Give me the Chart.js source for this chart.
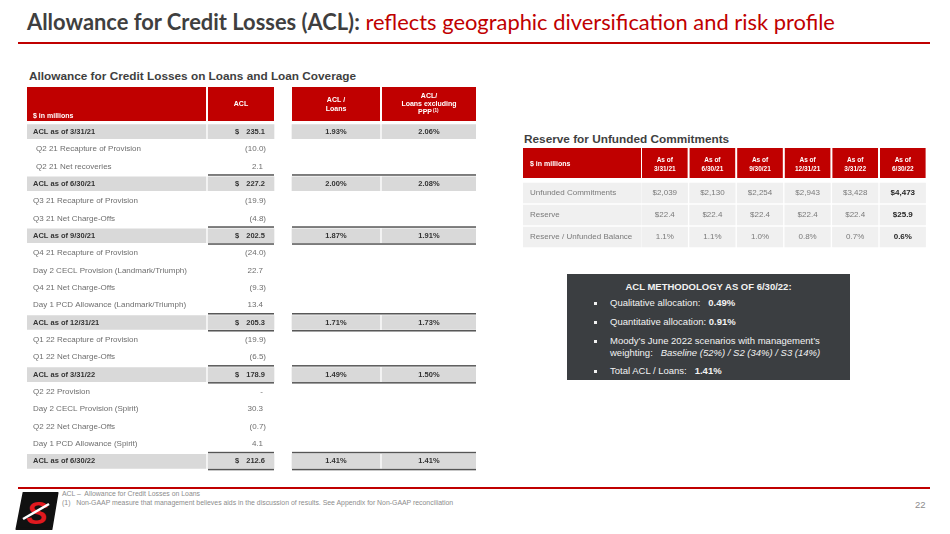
<!DOCTYPE html>
<html>
<head>
<meta charset="utf-8">
<script src="https://cdn.jsdelivr.net/npm/chart.js@4.4.1/dist/chart.umd.min.js"></script>
<style>
  body { margin: 0; width: 950px; height: 534px; position: relative; background: #fff; overflow: hidden; font-family: "Liberation Sans", Arial, sans-serif; }
  .abs { position: absolute; white-space: nowrap; }
  #title { left: 27px; top: 7px; font-family: Lato, sans-serif; font-size: 21.9px; line-height: 30px; color: #3f3f3f; }
  #title b { font-weight: 700; }
  #title span { color: #c00000; font-weight: 400; }
  .rule { position: absolute; left: 18px; width: 912px; height: 2px; background: #c00000; }
  .sub { font-weight: bold; font-size: 11.8px; color: #3f3f3f; }
  #method { left: 567px; top: 274px; width: 283px; height: 106px; background: #3b3e41; color: #f2f2f2; font-size: 9.5px; }
  #method .hd { position: absolute; top: 7px; width: 100%; text-align: center; font-weight: bold; font-size: 9.5px; }
  #method .li { position: absolute; left: 43px; line-height: 12px; }
  #method .li:before { content: ""; position: absolute; left: -16px; top: 5px; width: 3px; height: 3px; background: #f2f2f2; }
  #notes { left: 62px; top: 489px; font-size: 6.9px; line-height: 9px; color: #8c8c8c; }
  #page { left: 915px; top: 499px; font-size: 9.5px; color: #8c8c8c; }
  canvas { position: absolute; }
</style>
</head>
<body>
<div id="title" class="abs"><b>Allowance for Credit Losses (ACL):</b> <span>reflects geographic diversification and risk profile</span></div>
<div class="rule" style="top:42px"></div>
<div class="abs sub" style="left:29px;top:69px">Allowance for Credit Losses on Loans and Loan Coverage</div>
<div class="abs sub" style="left:524px;top:132px">Reserve for Unfunded Commitments</div>

<canvas id="aclChart" width="449" height="384" style="left:27px;top:87px"></canvas>
<canvas id="ucChart" width="403" height="101" style="left:523px;top:148px"></canvas>

<div id="method" class="abs"></div>

<div class="rule" style="top:487px"></div>
<svg class="abs" style="left:15px;top:492px" width="44" height="38" viewBox="0 0 44 38">
  <path d="M9 1 H42 L36 37 H2 Z" fill="#111" stroke="#111" stroke-width="3" stroke-linejoin="round"/>
  <text x="22" y="32" text-anchor="middle" font-family="Liberation Sans" font-weight="bold" font-style="italic" font-size="32" fill="#e0191f">S</text>
  <path d="M8 27 L34 12" stroke="#fff" stroke-width="2.5"/>
</svg>
<div id="notes" class="abs">ACL &ndash;&nbsp; Allowance for Credit Losses on Loans<br>(1)&nbsp;&nbsp; Non-GAAP measure that management believes aids in the discussion of results. See Appendix for Non-GAAP reconciliation</div>
<div id="page" class="abs">22</div>

<script>
// ACL roll-forward table
const aclRows = ['ACL as of 3/31/21', 'Q2 21 Recapture of Provision', 'Q2 21 Net recoveries',
  'ACL as of 6/30/21', 'Q3 21 Recapture of Provision', 'Q3 21 Net Charge-Offs',
  'ACL as of 9/30/21', 'Q4 21 Recapture of Provision', 'Day 2 CECL Provision (Landmark/Triumph)',
  'Q4 21 Net Charge-Offs', 'Day 1 PCD Allowance (Landmark/Triumph)',
  'ACL as of 12/31/21', 'Q1 22 Recapture of Provision', 'Q1 22 Net Charge-Offs',
  'ACL as of 3/31/22', 'Q2 22 Provision', 'Day 2 CECL Provision (Spirit)',
  'Q2 22 Net Charge-Offs', 'Day 1 PCD Allowance (Spirit)', 'ACL as of 6/30/22'];
const aclAmounts = [235.1, -10.0, 2.1, 227.2, -19.9, -4.8, 202.5, -24.0, 22.7, -9.3, 13.4,
  205.3, -19.9, -6.5, 178.9, 0, 30.3, -0.7, 4.1, 212.6];
const aclToLoans = [1.93, null, null, 2.00, null, null, 1.87, null, null, null, null,
  1.71, null, null, 1.49, null, null, null, null, 1.41];
const aclToLoansExPpp = [2.06, null, null, 2.08, null, null, 1.91, null, null, null, null,
  1.73, null, null, 1.50, null, null, null, null, 1.41];
const aclHeaders = [['$ in millions'], ['ACL'], ['ACL /', 'Loans'], ['ACL/', 'Loans excluding', 'PPP']];

// Reserve for unfunded commitments table
const ucDates = ['3/31/21', '6/30/21', '9/30/21', '12/31/21', '3/31/22', '6/30/22'];
const ucRows = ['Unfunded Commitments', 'Reserve', 'Reserve / Unfunded Balance'];
const unfundedCommitments = [2039, 2130, 2254, 2943, 3428, 4473];
const reserveAmounts = [22.4, 22.4, 22.4, 22.4, 22.4, 25.9];
const reserveRatios = [1.1, 1.1, 1.0, 0.8, 0.7, 0.6];

// Methodology box
const qualitativeAllocation = 0.49;
const quantitativeAllocation = 0.91;
const scenarioNames = ['Baseline', 'S2', 'S3'];
const scenarioWeights = [52, 34, 14];
const totalAclToLoans = 1.41;

const RED = '#c00000';
const FONT = '"Liberation Sans", Arial, sans-serif';

const isTotal = label => label.startsWith('ACL as of');

function fmtAmount(v) {
  if (v === 0) return '-';
  return v < 0 ? '(' + Math.abs(v).toFixed(1) + ')' : v.toFixed(1);
}

function drawText(ctx, str, x, y, font, color, align) {
  ctx.font = font;
  ctx.fillStyle = color;
  ctx.textAlign = align || 'left';
  ctx.textBaseline = 'middle';
  ctx.fillText(str, x, y);
}

// column spans in table units (1 unit = 1px of table width)
const aclCols = [[0, 179], [181, 247], [265, 353], [355, 449]];
const ucCols = [[0, 118]].concat(ucDates.map((_, i) => [119 + i * 47.6, 164.6 + i * 47.6]));

const aclTablePlugin = {
  id: 'aclTable',
  afterDatasetsDraw(chart) {
    const { ctx, scales: { x, y } } = chart;
    const px = v => x.getPixelForValue(v);
    const mid = c => (px(c[0]) + px(c[1])) / 2;
    ctx.save();
    ctx.fillStyle = RED;
    aclCols.forEach(c => ctx.fillRect(px(c[0]), 0, px(c[1]) - px(c[0]), 34));
    const hf = 'bold 7px ' + FONT;
    drawText(ctx, aclHeaders[0][0], px(6), 29, hf, '#fff');
    drawText(ctx, aclHeaders[1][0], mid(aclCols[1]), 17, hf, '#fff', 'center');
    aclHeaders[2].forEach((t, i) => drawText(ctx, t, mid(aclCols[2]), 13 + i * 9, hf, '#fff', 'center'));
    aclHeaders[3].forEach((t, i) => drawText(ctx, t, mid(aclCols[3]) - (i === 2 ? 4 : 0), 9 + i * 8, hf, '#fff', 'center'));
    drawText(ctx, '(1)', mid(aclCols[3]) + 4, 24, 'bold 4.5px ' + FONT, '#fff');

    aclRows.forEach((label, i) => {
      const cy = y.getPixelForValue(i);
      const total = isTotal(label);
      const lf = total ? 'bold 7.5px ' + FONT : '8px ' + FONT;
      const col = total ? '#333' : '#6e6e6e';
      drawText(ctx, label, px(i === 1 || i === 2 ? 9 : 6), cy, lf, col);
      const v = aclAmounts[i];
      if (total) {
        drawText(ctx, '$', px(208), cy, lf, col);
        drawText(ctx, v.toFixed(1), px(238), cy, lf, col, 'right');
      } else {
        drawText(ctx, fmtAmount(v), px(v < 0 ? 239 : 236), cy, lf, col, 'right');
      }
      if (aclToLoans[i] != null) drawText(ctx, aclToLoans[i].toFixed(2) + '%', mid(aclCols[2]), cy, lf, col, 'center');
      if (aclToLoansExPpp[i] != null) drawText(ctx, aclToLoansExPpp[i].toFixed(2) + '%', mid(aclCols[3]), cy, lf, col, 'center');
      if (total && i > 0) {
        ctx.fillStyle = '#555';
        [aclCols[1], [aclCols[2][0], aclCols[3][1]]].forEach(c => {
          ctx.fillRect(px(c[0]), cy - 9.5, px(c[1]) - px(c[0]), 1.5);
          if (i > 3) ctx.fillRect(px(c[0]), cy + 7.5, px(c[1]) - px(c[0]), 1.5);
        });
      }
    });
    ctx.restore();
  }
};

const ucTablePlugin = {
  id: 'ucTable',
  afterDatasetsDraw(chart) {
    const { ctx, scales: { x, y } } = chart;
    const px = v => x.getPixelForValue(v);
    const mid = c => (px(c[0]) + px(c[1])) / 2;
    ctx.save();
    ctx.fillStyle = RED;
    ucCols.forEach(c => ctx.fillRect(px(c[0]), 0, px(c[1]) - px(c[0]), 30));
    const hf = 'bold 6.5px ' + FONT;
    drawText(ctx, '$ in millions', px(7), 16, 'bold 7px ' + FONT, '#fff');
    ucDates.forEach((d, i) => {
      drawText(ctx, 'As of', mid(ucCols[i + 1]), 12, hf, '#fff', 'center');
      drawText(ctx, d, mid(ucCols[i + 1]), 21, hf, '#fff', 'center');
    });
    const series = [
      unfundedCommitments.map(v => '$' + v.toLocaleString('en-US')),
      reserveAmounts.map(v => '$' + v.toFixed(1)),
      reserveRatios.map(v => v.toFixed(1) + '%')
    ];
    ucRows.forEach((label, r) => {
      const cy = y.getPixelForValue(r);
      drawText(ctx, label, px(7), cy, '8px ' + FONT, '#7a7a7a');
      series[r].forEach((s, i) => {
        const last = i === series[r].length - 1;
        drawText(ctx, s, mid(ucCols[i + 1]), cy, last ? 'bold 8px ' + FONT : '8px ' + FONT, last ? '#262626' : '#7a7a7a', 'center');
      });
    });
    ctx.restore();
  }
};

function baseOptions(maxX, padTop, padBottom) {
  return {
    indexAxis: 'y',
    responsive: false,
    animation: false,
    events: [],
    layout: { padding: { top: padTop, bottom: padBottom, left: 0, right: 0 } },
    plugins: { legend: { display: false }, tooltip: { enabled: false } },
    scales: {
      x: { type: 'linear', min: 0, max: maxX, display: false },
      y: { type: 'category', display: false, offset: true }
    }
  };
}

new Chart(document.getElementById('aclChart'), {
  type: 'bar',
  data: {
    labels: aclRows,
    datasets: aclCols.map(c => ({
      data: aclRows.map(r => isTotal(r) ? c : null),
      backgroundColor: '#d9d9d9',
      barThickness: 14,
      grouped: false
    }))
  },
  options: baseOptions(449, 36, 1),
  plugins: [aclTablePlugin]
});

new Chart(document.getElementById('ucChart'), {
  type: 'bar',
  data: {
    labels: ucRows,
    datasets: ucCols.map(c => ({
      data: ucRows.map(() => c),
      backgroundColor: '#f0f0f0',
      barThickness: 20,
      grouped: false
    }))
  },
  options: baseOptions(403, 34, 1),
  plugins: [ucTablePlugin]
});

// methodology box text
const method = document.getElementById('method');
const items = [
  { top: 23, html: 'Qualitative allocation:&nbsp;&nbsp; <b>' + qualitativeAllocation.toFixed(2) + '%</b>' },
  { top: 42, html: 'Quantitative allocation: <b>' + quantitativeAllocation.toFixed(2) + '%</b>' },
  { top: 61, html: 'Moody\u2019s June 2022 scenarios with management\u2019s<br>weighting:&nbsp;&nbsp; <i>' +
      scenarioNames.map((n, i) => n + ' (' + scenarioWeights[i] + '%)').join(' / ') + '</i>' },
  { top: 91, html: 'Total ACL / Loans:&nbsp;&nbsp; <b>' + totalAclToLoans.toFixed(2) + '%</b>' }
];
method.innerHTML = '<div class="hd">ACL METHODOLOGY AS OF 6/30/22:</div>' +
  items.map(it => '<div class="li" style="top:' + it.top + 'px">' + it.html + '</div>').join('');
</script>
</body>
</html>
